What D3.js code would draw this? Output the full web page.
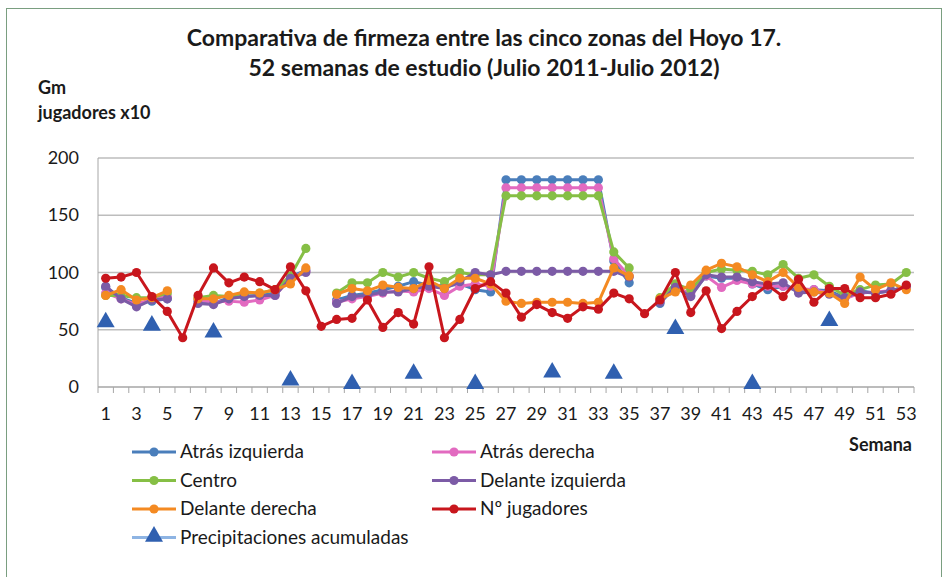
<!DOCTYPE html>
<html>
<head>
<meta charset="utf-8">
<script src="https://cdnjs.cloudflare.com/ajax/libs/d3/7.8.5/d3.min.js"></script>
<style>
  body { margin: 0; background: #fff; }
  text { font-family: Lato, "Open Sans", sans-serif; fill: #1a1a1a; }
  .title { font-weight: bold; font-size: 23px; }
  .axisLabel { font-weight: bold; font-size: 18px; }
  .tickText { font-size: 18px; }
  .legendText { font-size: 19px; }
</style>
</head>
<body>
<svg width="952" height="577"></svg>
<script>
var weeks = d3.range(1, 54);
var yTicks = [0, 50, 100, 150, 200];

var atrasIzquierda = [87, 78, 73, 75, 77, null, 75, 73, 78, 79, 80, 82, 96, 102, null, 76, 80, 82, 85, 88,
  92, 89, 88, 90, 85, 83, 181, 181, 181, 181, 181, 181, 181, 110, 91, null, 73, 88, 80, 97,
  95, 95, 90, 85, 88, 84, 85, 84, 78, 84, 82, 84, 88];
var atrasDerecha = [82, 77, 72, 77, 79, null, 76, 74, 75, 74, 76, 80, 95, 101, null, 74, 77, 79, 82, 84,
  83, 86, 80, 88, 90, 88, 174, 174, 174, 174, 174, 174, 174, 112, 97, null, 75, 86, 82, 97,
  87, 93, 90, 88, 88, 86, 85, 82, 77, 82, 83, 84, 87];
var centro = [80, 80, 78, 78, 82, null, 78, 80, 79, 82, 82, 85, 97, 121, null, 82, 91, 91, 100, 96,
  100, 95, 92, 100, 98, 98, 167, 167, 167, 167, 167, 167, 167, 118, 104, null, 78, 90, 85, 100,
  103, 102, 101, 98, 107, 95, 98, 88, 80, 85, 89, 90, 100];
var delanteIzquierda = [88, 77, 70, 76, 77, null, 73, 72, 77, 79, 80, 80, 95, 100, null, 73, 79, 80, 83, 83,
  86, 88, 86, 92, 100, 98, 101, 101, 101, 101, 101, 101, 101, 101, 96, null, 74, 87, 79, 98,
  96, 96, 92, 90, 91, 82, 83, 81, 78, 83, 82, 84, 88];
var delanteDerecha = [80, 85, 76, 78, 84, null, 77, 77, 80, 83, 82, 85, 90, 104, null, 81, 86, 84, 89, 87,
  86, 93, 86, 95, 95, 90, 75, 73, 74, 74, 74, 73, 74, 104, 97, null, 77, 83, 89, 102,
  108, 105, 98, 92, 100, 87, 83, 82, 73, 96, 85, 91, 85];
var jugadores = [95, 96, 100, 79, 66, 43, 80, 104, 91, 96, 92, 85, 105, 84, 53, 59, 60, 76, 52, 65,
  55, 105, 43, 59, 86, 92, 82, 61, 72, 65, 60, 70, 68, 82, 77, 64, 76, 100, 65, 84,
  51, 66, 79, 89, 79, 94, 74, 86, 86, 78, 78, 81, 89];
var precipWeeks = [1, 4, 8, 13, 17, 21, 25, 30, 34, 38, 43, 48];
var precipValues = [55, 52, 46, 4, 1, 10, 1, 11, 10, 49, 1, 56];

var seriesNames = ["Atrás izquierda", "Atrás derecha", "Centro", "Delante izquierda", "Delante derecha", "Nº jugadores"];
var seriesValues = [atrasIzquierda, atrasDerecha, centro, delanteIzquierda, delanteDerecha, jugadores];
var seriesColors = ["#4a7ebb", "#e26ac0", "#86bf45", "#7c5ba6", "#f48a22", "#c8161d"];
var precipName = "Precipitaciones acumuladas";

var svg = d3.select("svg");

// frame round the whole chart
svg.append("rect")
  .attr("x", 6.5).attr("y", 8.5)
  .attr("width", 935).attr("height", 600)
  .attr("fill", "none").attr("stroke", "#7a9e80").attr("stroke-width", 1);

var x = d3.scaleBand().domain(weeks).range([98, 914]);
var y = d3.scaleLinear().domain([0, 200]).range([387, 158]);
function cx (w) { return x(w) + x.bandwidth() / 2; }

// grid lines
svg.selectAll(".grid").data(yTicks.filter(function (d) { return d > 0; })).enter()
  .append("line")
  .attr("x1", 98).attr("x2", 914)
  .attr("y1", function (d) { return y(d); }).attr("y2", function (d) { return y(d); })
  .attr("stroke", "#bdbdbd").attr("stroke-width", 1.5);

// y axis
svg.append("line")
  .attr("x1", 98).attr("x2", 98).attr("y1", y(200)).attr("y2", y(0))
  .attr("stroke", "#a6a6a6");
svg.selectAll(".ytick").data(yTicks).enter()
  .append("text")
  .attr("class", "tickText")
  .attr("x", 79).attr("y", function (d) { return y(d) + 6; })
  .attr("text-anchor", "end")
  .text(function (d) { return d; });

// x axis with a tick at every category edge
svg.append("line")
  .attr("x1", 98).attr("x2", 914).attr("y1", y(0)).attr("y2", y(0))
  .attr("stroke", "#a6a6a6").attr("stroke-width", 1.5);
svg.selectAll(".xtick").data(weeks.concat([54])).enter()
  .append("line")
  .attr("x1", function (d) { return d === 54 ? 914 : x(d); })
  .attr("x2", function (d) { return d === 54 ? 914 : x(d); })
  .attr("y1", y(0)).attr("y2", y(0) + 6)
  .attr("stroke", "#a6a6a6");
svg.selectAll(".xlabel").data(weeks.filter(function (d) { return d % 2 === 1; })).enter()
  .append("text")
  .attr("class", "tickText")
  .attr("x", cx).attr("y", 420)
  .attr("text-anchor", "middle")
  .text(function (d) { return d; });

// series lines and markers
var line = d3.line()
  .defined(function (d) { return d !== null; })
  .x(function (d, i) { return cx(weeks[i]); })
  .y(function (d) { return y(d); });

seriesValues.forEach(function (vals, k) {
  svg.append("path")
    .attr("d", line(vals))
    .attr("fill", "none")
    .attr("stroke", seriesColors[k])
    .attr("stroke-width", 3)
    .attr("stroke-linejoin", "round");
  svg.selectAll(".m" + k).data(vals.map(function (v, i) { return [weeks[i], v]; })
      .filter(function (d) { return d[1] !== null; }))
    .enter().append("circle")
    .attr("cx", function (d) { return cx(d[0]); })
    .attr("cy", function (d) { return y(d[1]); })
    .attr("r", 4.6)
    .attr("fill", seriesColors[k]);
});

var tri = d3.symbol().type(d3.symbolTriangle).size(140);
svg.selectAll(".precip").data(precipWeeks).enter()
  .append("path")
  .attr("d", tri)
  .attr("transform", function (d, i) { return "translate(" + cx(d) + "," + (y(precipValues[i]) - 2) + ")"; })
  .attr("fill", "#3060b0");

// titles
svg.append("text").attr("class", "title").attr("x", 484).attr("y", 46)
  .attr("text-anchor", "middle").text("Comparativa de firmeza entre las cinco zonas del Hoyo 17.");
svg.append("text").attr("class", "title").attr("x", 484).attr("y", 76)
  .attr("text-anchor", "middle").text("52 semanas de estudio (Julio 2011-Julio 2012)");
svg.append("text").attr("class", "axisLabel").attr("x", 38).attr("y", 94).text("Gm");
svg.append("text").attr("class", "axisLabel").attr("x", 38).attr("y", 119).text("jugadores x10");
svg.append("text").attr("class", "axisLabel").attr("x", 912).attr("y", 451)
  .attr("text-anchor", "end").text("Semana");

// legend
var legendItems = seriesNames.map(function (n, i) { return { name: n, color: seriesColors[i], tri: false }; });
legendItems.push({ name: precipName, color: "#8eb4e3", tri: true });
legendItems.forEach(function (d, i) {
  var lx = (i % 2 === 0) ? 132 : 432;
  var ly = 452 + Math.floor(i / 2) * 28.5;
  var g = svg.append("g");
  g.append("line").attr("x1", lx).attr("x2", lx + 44).attr("y1", ly).attr("y2", ly)
    .attr("stroke", d.color).attr("stroke-width", 3);
  if (d.tri) {
    g.append("path").attr("d", tri).attr("transform", "translate(" + (lx + 22) + "," + (ly - 1) + ")")
      .attr("fill", "#3060b0");
  } else {
    g.append("circle").attr("cx", lx + 22).attr("cy", ly).attr("r", 4.6).attr("fill", d.color);
  }
  g.append("text").attr("class", "legendText").attr("x", lx + 48).attr("y", ly + 6).text(d.name);
});
</script>
</body>
</html>
